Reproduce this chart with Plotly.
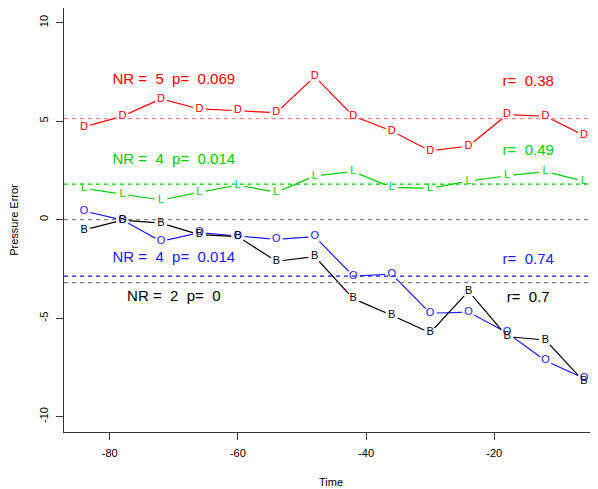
import plotly.graph_objects as go

time = [-84, -78, -72, -66, -60, -54, -48, -42, -36, -30, -24, -18, -12, -6]
series_D = [4.71, 5.26, 6.13, 5.62, 5.53, 5.43, 7.27, 5.26, 4.50, 3.49, 3.74, 5.33, 5.25, 4.28]
series_L = [1.59, 1.30, 1.00, 1.39, 1.76, 1.39, 2.22, 2.44, 1.64, 1.59, 1.96, 2.23, 2.44, 1.96]
series_O = [0.44, -0.02, -1.10, -0.66, -0.83, -1.00, -0.86, -2.86, -2.76, -4.75, -4.69, -5.74, -7.16, -8.05]
series_B = [-0.52, -0.02, -0.18, -0.76, -0.86, -2.11, -1.88, -4.01, -4.85, -5.74, -3.63, -5.94, -6.11, -8.22]

x_tickvals = [-80, -60, -40, -20]
x_ticktext = ["-80", "-60", "-40", "-20"]
y_tickvals = [-10, -5, 0, 5, 10]
y_ticktext = ["-10", "-5", "0", "5", "10"]

letters = ["D", "L", "O", "B"]
colors = ["#FF0000", "#00CC00", "#1a1aFF", "#000000"]
mean_lines = [5.13, 1.80, -2.87, -3.20]
mean_colors = ["rgba(255,60,60,0.6)", "#00CC00", "#1a1aFF", "#808080"]
zero_line = 0

nr_texts = ["NR =\u00a0 5\u00a0 p=\u00a0 0.069", "NR =\u00a0 4\u00a0 p=\u00a0 0.014",
            "NR =\u00a0 4\u00a0 p=\u00a0 0.014", "NR =\u00a0 2\u00a0 p=\u00a0 0"]
nr_x = [-70, -70, -70, -70]
nr_y = [7.06, 3.03, -1.98, -3.94]
r_texts = ["r=\u00a0 0.38", "r=\u00a0 0.49", "r=\u00a0 0.74", "r=\u00a0 0.7"]
r_x = [-14.7, -14.7, -14.7, -14.7]
r_y = [7.0, 3.49, -2.05, -3.99]

all_series = [series_D, series_L, series_O, series_B]

fig = go.Figure()

# lines
for ys, c in zip(all_series, colors):
    fig.add_trace(go.Scatter(x=time, y=ys, mode="lines",
                             line=dict(color=c, width=1.2), hoverinfo="skip"))
# white gaps around points
for ys in all_series:
    fig.add_trace(go.Scatter(x=time, y=ys, mode="markers",
                             marker=dict(color="white", size=13, line=dict(width=0)),
                             hoverinfo="skip"))
# letters
for ys, c, L in zip(all_series, colors, letters):
    fig.add_trace(go.Scatter(x=time, y=ys, mode="text", text=[L] * len(time),
                             textposition="middle center",
                             textfont=dict(family="Liberation Sans, Arial", size=11, color=c)))
# annotation texts
for i, c in enumerate(colors):
    fig.add_trace(go.Scatter(x=[nr_x[i], r_x[i]], y=[nr_y[i], r_y[i]], mode="text",
                             text=[nr_texts[i], r_texts[i]], textposition="middle center",
                             textfont=dict(family="Liberation Sans, Arial", size=15, color=c)))

# dashed horizontal lines
fig.add_hline(y=zero_line, line=dict(color="#808080", width=1.2, dash="4px,4px"), layer="above")
for m, c in zip(mean_lines, mean_colors):
    fig.add_hline(y=m, line=dict(color=c, width=1.2, dash="4px,4px"), layer="above")

fig.update_layout(
    width=590, height=481,
    margin=dict(l=56, r=0, t=0, b=57),
    plot_bgcolor="white", paper_bgcolor="white",
    showlegend=False,
    font=dict(family="Liberation Sans, Arial", size=11, color="black"),
    xaxis=dict(range=[-87.13, -3.81], tickvals=x_tickvals, ticktext=x_ticktext,
               ticks="outside", ticklen=7, tickcolor="#333", showgrid=False, zeroline=False,
               showline=True, linecolor="#333", linewidth=1, mirror=True, automargin=False,
               ticklabelstandoff=4,
               title=dict(text="Time", standoff=20, font=dict(size=11))),
    yaxis=dict(range=[-10.78, 10.746], tickvals=y_tickvals, ticktext=y_ticktext, tickangle=-90,
               ticks="outside", ticklen=7, tickcolor="#333", showgrid=False, zeroline=False,
               showline=True, linecolor="#333", linewidth=1, mirror=False, automargin=False,
               ticklabelstandoff=4,
               title=dict(text="Pressure Error", standoff=19, font=dict(size=11))),
)

fig.write_html("out.html")
